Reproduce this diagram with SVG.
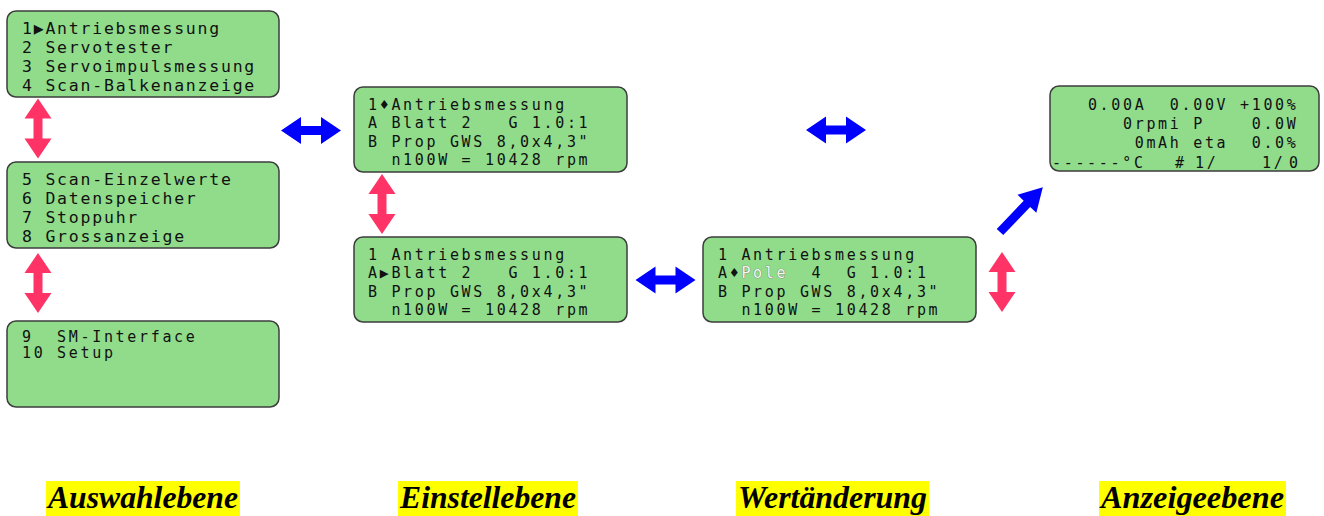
<svg xmlns="http://www.w3.org/2000/svg" width="1324" height="516" viewBox="0 0 1324 516">
<style>
.lcd{fill:#90dc8a;stroke:#3c3c3c;stroke-width:1.5}
.t{font-family:"DejaVu Sans Mono","Liberation Mono",monospace;fill:#111;white-space:pre}
.big{font-size:16.5px;letter-spacing:1.77px}
.sm{font-size:15px;letter-spacing:2.67px}
.hol{fill:#f4f7f2;stroke:#6a6a6a;stroke-width:0.7;paint-order:stroke}
.pink{fill:#ff3366}
.blue{fill:#0000ff}
.lbl{font-family:"Liberation Serif","Times New Roman",serif;font-weight:bold;font-style:italic;font-size:31px;fill:#000}
.hl{fill:#ffff00}
</style>
<defs>
<path id="dbl" d="M-30,0 L-10,-13.5 L-10,-4.5 L10,-4.5 L10,-13.5 L30,0 L10,13.5 L10,4.5 L-10,4.5 L-10,13.5 Z"/>
<path id="sgl" d="M0,-4.5 L39,-4.5 L39,-13 L62,0 L39,13 L39,4.5 L0,4.5 Z"/>
</defs>

<g id="connectors">
<use href="#dbl" class="pink" transform="translate(38,128.5) rotate(90)"/>
<use href="#dbl" class="pink" transform="translate(38,283) rotate(90)"/>
<use href="#dbl" class="pink" transform="translate(382,204) rotate(90)"/>
<use href="#dbl" class="pink" transform="translate(1002,282) rotate(90)"/>
<use href="#dbl" class="blue" transform="translate(311,130.5)"/>
<use href="#dbl" class="blue" transform="translate(836,130)"/>
<use href="#dbl" class="blue" transform="translate(665.5,280)"/>
<use href="#sgl" class="blue" transform="translate(1000,232) rotate(-46.3)"/>
</g>

<g id="menu1">
<rect class="lcd" x="7" y="11" width="272" height="86" rx="9"/>
<text class="t big" y="33.5"><tspan x="22">1</tspan><tspan x="33.7">▶</tspan><tspan x="45.4">Antriebsmessung</tspan></text>
<text class="t big" x="22" y="52.8">2 Servotester</text>
<text class="t big" x="22" y="72.1">3 Servoimpulsmessung</text>
<text class="t big" x="22" y="91.4">4 Scan-Balkenanzeige</text>
</g>

<g id="menu2">
<rect class="lcd" x="7" y="162" width="272" height="86" rx="9"/>
<text class="t big" x="22" y="184.5">5 Scan-Einzelwerte</text>
<text class="t big" x="22" y="203.8">6 Datenspeicher</text>
<text class="t big" x="22" y="223.1">7 Stoppuhr</text>
<text class="t big" x="22" y="242.4">8 Grossanzeige</text>
</g>

<g id="menu3">
<rect class="lcd" x="7" y="321" width="272" height="86" rx="9"/>
<text class="t sm" x="22" y="342">9  SM-Interface</text>
<text class="t sm" x="22" y="357.5">10 Setup</text>
</g>

<g id="einstell1">
<rect class="lcd" x="354" y="87" width="273" height="85" rx="9"/>
<text class="t sm" y="110"><tspan x="368">1</tspan><tspan x="379.7">♦</tspan><tspan x="391.4">Antriebsmessung</tspan></text>
<text class="t sm" x="368" y="128.3">A Blatt 2   G 1.0:1</text>
<text class="t sm" x="368" y="146.7">B Prop GWS 8,0x4,3"</text>
<text class="t sm" x="368" y="165">  n100W = 10428 rpm</text>
</g>

<g id="einstell2">
<rect class="lcd" x="354" y="237" width="273" height="85" rx="9"/>
<text class="t sm" x="368" y="260">1 Antriebsmessung</text>
<text class="t sm" y="278.3"><tspan x="368">A</tspan><tspan x="379.7">▶</tspan><tspan x="391.4">Blatt 2   G 1.0:1</tspan></text>
<text class="t sm" x="368" y="296.7">B Prop GWS 8,0x4,3"</text>
<text class="t sm" x="368" y="315">  n100W = 10428 rpm</text>
</g>

<g id="wert">
<rect class="lcd" x="703" y="237" width="273" height="85" rx="9"/>
<text class="t sm" x="718" y="260">1 Antriebsmessung</text>
<text class="t sm" y="278.3"><tspan x="718">A</tspan><tspan x="729.7">♦</tspan><tspan x="741.4" class="hol">Pole</tspan><tspan x="788.2">  4  G 1.0:1</tspan></text>
<text class="t sm" x="718" y="296.7">B Prop GWS 8,0x4,3"</text>
<text class="t sm" x="718" y="315">  n100W = 10428 rpm</text>
</g>

<g id="anzeige">
<rect class="lcd" x="1050" y="86" width="269" height="85" rx="9"/>
<text class="t sm" x="1064.5" y="109.5">  0.00A  0.00V +100%</text>
<text class="t sm" x="1064.5" y="128.5">     0rpmi P    0.0W</text>
<text class="t sm" x="1064.5" y="148">      0mAh eta  0.0%</text>
<text class="t sm" y="168"><tspan x="1052">------°C</tspan><tspan x="1175">#</tspan><tspan x="1195">1/</tspan><tspan x="1262">1/</tspan><tspan x="1289">0</tspan></text>
</g>

<g id="labels">
<rect class="hl" x="46" y="481" width="194" height="35"/>
<text class="lbl" x="48" y="508" textLength="190" lengthAdjust="spacingAndGlyphs">Auswahlebene</text>
<rect class="hl" x="398" y="481" width="180" height="35"/>
<text class="lbl" x="400" y="508" textLength="176" lengthAdjust="spacingAndGlyphs">Einstellebene</text>
<rect class="hl" x="736" y="481" width="193" height="35"/>
<text class="lbl" x="738" y="508" textLength="189" lengthAdjust="spacingAndGlyphs">Wertänderung</text>
<rect class="hl" x="1099" y="481" width="187" height="35"/>
<text class="lbl" x="1101" y="508" textLength="183" lengthAdjust="spacingAndGlyphs">Anzeigeebene</text>
</g>
</svg>
